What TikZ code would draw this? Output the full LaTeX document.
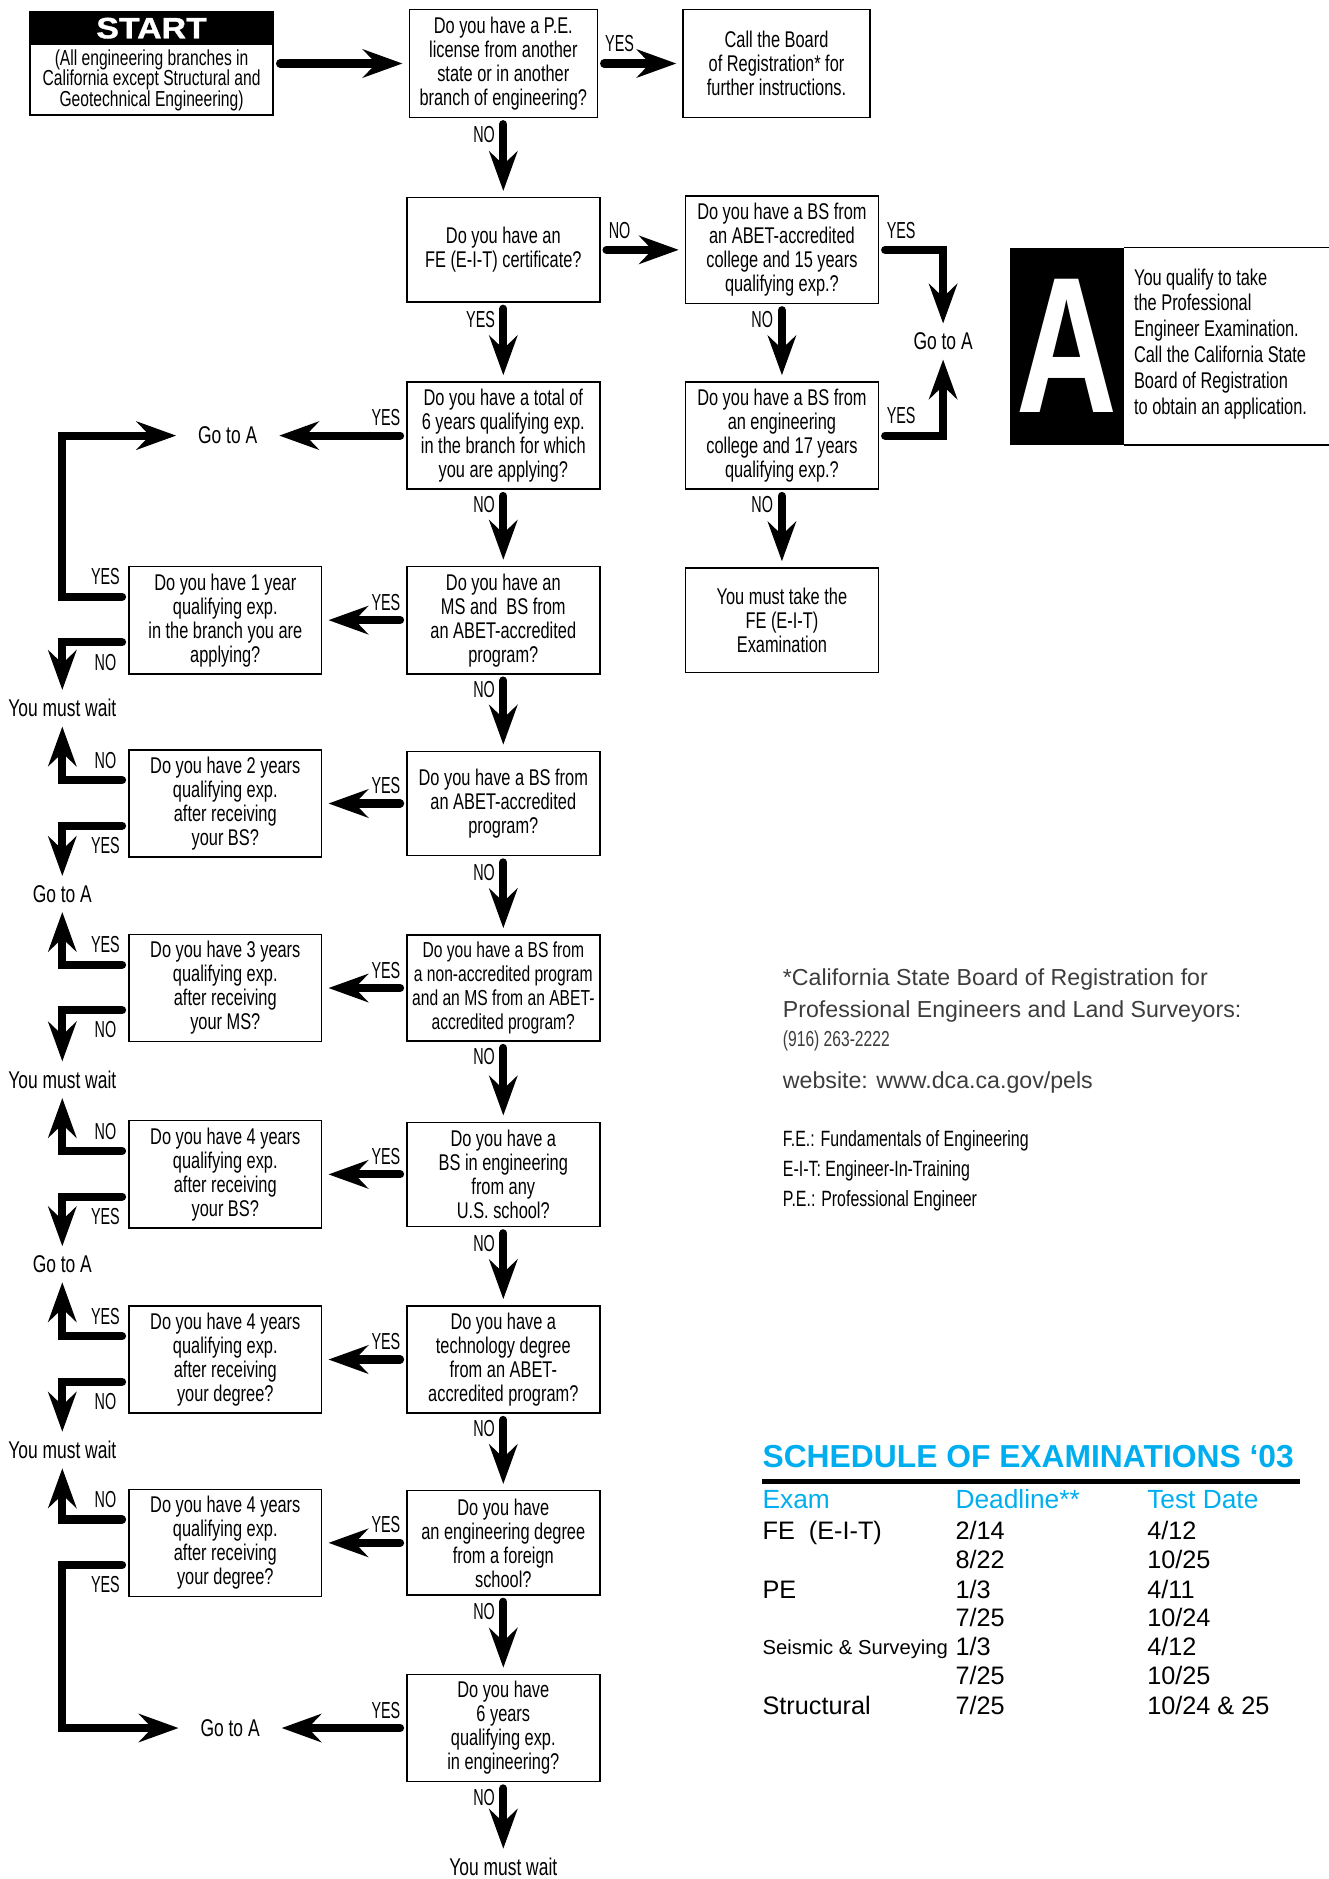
\documentclass[tikz,border=0pt]{standalone}
\usepackage{fontspec}
\setmainfont{Liberation Sans}
\newfontfamily\condfont[FakeStretch=0.72]{Liberation Sans}
\newfontfamily\lblfont[FakeStretch=0.62]{Liberation Sans}
\newfontfamily\widefont[FakeStretch=1.15, FakeBold=1.2]{Liberation Sans}
\newfontfamily\tallfont[FakeStretch=0.72]{Liberation Sans}
\usepackage{tikz}
\usepackage{xcolor}
\usetikzlibrary{arrows.meta}
\definecolor{schedblue}{RGB}{0,174,239}
\definecolor{notegray}{RGB}{60,60,60}

\tikzset{
  qbox/.style={draw, line width=0.7pt, minimum width=32.2mm, minimum height=17.4mm,
    inner xsep=0.5mm, align=center, font=\condfont\fontsize{10.8}{11.4}\selectfont},
  lbl/.style={inner sep=0pt, font=\lblfont\fontsize{11}{12}\selectfont},
  goto/.style={inner xsep=2.6mm, inner ysep=0.5mm, font=\condfont\fontsize{11.5}{12}\selectfont},
  flow/.style={line width=1.35mm, line cap=round, shorten <=1mm, shorten >=1mm,
    -{Stealth[length=6.6mm, width=4.7mm, inset=2.2mm]}},
  note/.style={anchor=base west, inner sep=0pt, text=notegray, font=\fontsize{11}{13}\selectfont},
  abbr/.style={anchor=base west, inner sep=0pt, font=\condfont\fontsize{10.5}{11}\selectfont},
  cell/.style={anchor=base west, inner sep=0pt, font=\fontsize{12}{14}\selectfont},
  head/.style={cell, text=schedblue, font=\fontsize{12.5}{14}\selectfont}
}

\begin{document}
\begin{tikzpicture}[x=0.2mm, y=-0.2mm]
    \useasboundingbox (0,0) rectangle (1109,1568);

    % Start box
    \node[draw, line width=0.8pt, minimum width=40.6mm, minimum height=17.2mm] (start) at (126.5,53) {};
    \node[draw, fill=black, text=white, minimum width=40.6mm, minimum height=5.4mm, inner sep=0pt,
      font=\widefont\bfseries\fontsize{14}{14}\selectfont] (starthd) at (126.5,23.5) {START};
    \node[align=center, inner sep=0pt, font=\condfont\fontsize{10.3}{9.8}\selectfont] (startbody) at (126.5,67)
      {(All engineering branches in\\California except Structural and\\Geotechnical Engineering)};

    % Middle column
    \node[qbox, minimum width=31.4mm, minimum height=18mm] (pe) at (420,53)
      {Do you have a P.E.\\license from another\\state or in another\\branch of engineering?};
    \node[qbox] (fe) at (420,208.5) {Do you have an\\FE (E-I-T) certificate?};
    \node[qbox] (tot6) at (420,363.5)
      {Do you have a total of\\6 years qualifying exp.\\in the branch for which\\you are applying?};
    \node[qbox] (msbs) at (420,517.5) {Do you have an\\MS and\ \ BS from\\an ABET-accredited\\program?};
    \node[qbox] (bsabet) at (420,670.5) {Do you have a BS from\\an ABET-accredited\\program?};
    \node[qbox, font=\condfont\fontsize{10.3}{11.4}\selectfont] (nonacc) at (420,824.5)
      {Do you have a BS from\\a non-accredited program\\and an MS from an ABET-\\accredited program?};
    \node[qbox] (bsus) at (420,980) {Do you have a\\BS in engineering\\from any\\U.S. school?};
    \node[qbox] (tech) at (420,1134.5)
      {Do you have a\\technology degree\\from an ABET-\\accredited program?};
    \node[qbox] (foreign) at (420,1287.5)
      {Do you have\\an engineering degree\\from a foreign\\school?};
    \node[qbox] (eng6) at (420,1442)
      {Do you have\\6 years\\qualifying exp.\\in engineering?};
    \node[goto] (wait4) at (420,1558) {You must wait};

    % Right column
    \node[qbox, minimum width=31.2mm, minimum height=18mm] (board) at (648,53)
      {Call the Board\\of Registration* for\\further instructions.};
    \node[qbox] (bs15) at (652.5,208.5)
      {Do you have a BS from\\an ABET-accredited\\college and 15 years\\qualifying exp.?};
    \node[qbox] (bs17) at (652.5,363.5)
      {Do you have a BS from\\an engineering\\college and 17 years\\qualifying exp.?};
    \node[qbox] (feexam) at (652.5,517.5) {You must take the\\FE (E-I-T)\\Examination};
    \node[goto] (gotoR) at (787,285) {Go to A};

    % Left column
    \node[qbox] (yr1) at (188,517.5)
      {Do you have 1 year\\qualifying exp.\\in the branch you are\\applying?};
    \node[qbox] (yr2) at (188,670.5)
      {Do you have 2 years\\qualifying exp.\\after receiving\\your BS?};
    \node[qbox] (yr3) at (188,824.5)
      {Do you have 3 years\\qualifying exp.\\after receiving\\your MS?};
    \node[qbox] (yr4a) at (188,980)
      {Do you have 4 years\\qualifying exp.\\after receiving\\your BS?};
    \node[qbox] (yr4b) at (188,1134.5)
      {Do you have 4 years\\qualifying exp.\\after receiving\\your degree?};
    \node[qbox] (yr4c) at (188,1287.5)
      {Do you have 4 years\\qualifying exp.\\after receiving\\your degree?};

    % Outcomes on the left
    \node[goto] (gotoL1) at (190,363.5) {Go to A};
    \node[goto] (wait1) at (52,591) {You must wait};
    \node[goto] (goto2) at (52,746) {Go to A};
    \node[goto] (wait2) at (52,901) {You must wait};
    \node[goto] (goto3) at (52,1055) {Go to A};
    \node[goto] (wait3) at (52,1210) {You must wait};
    \node[goto] (gotoL2) at (192,1442) {Go to A};
    \coordinate (c1) at (52,363.5);
    \coordinate (c2) at (52,1442);

    % Box A
    \node[fill=black, text=white, minimum width=19mm, minimum height=32.8mm, inner sep=0pt,
      font=\tallfont\bfseries\fontsize{92}{92}\selectfont] (abig) at (890.5,289) {A};
    \draw[line width=0.7pt] (abig.north east) -- ++(171,0);
    \draw[line width=0.7pt] (abig.south east) -- ++(171,0);
    \node[anchor=west, align=left, inner sep=0pt, font=\condfont\fontsize{10.8}{12.3}\selectfont] (atext) at (946,287)
      {You qualify to take\\the Professional\\Engineer Examination.\\Call the California State\\Board of Registration\\to obtain an application.};

    % Main flow
    \draw[flow] (start) -- (pe);
    \draw[flow] (pe) -- (board);
    \draw[flow] (pe) -- (fe);
    \draw[flow] (fe) -- (bs15);
    \draw[flow] (fe) -- (tot6);
    \draw[flow] (tot6) -- (msbs);
    \draw[flow] (msbs) -- (bsabet);
    \draw[flow] (bsabet) -- (nonacc);
    \draw[flow] (nonacc) -- (bsus);
    \draw[flow] (bsus) -- (tech);
    \draw[flow] (tech) -- (foreign);
    \draw[flow] (foreign) -- (eng6);
    \draw[flow] (eng6) -- (wait4);
    \draw[flow] (bs15) -- (bs17);
    \draw[flow] (bs17) -- (feexam);
    \draw[flow] (bs15) -| (gotoR);
    \draw[flow] (bs17) -| (gotoR);

    % Yes to the left
    \draw[flow] (tot6) -- (gotoL1);
    \draw[flow] (msbs) -- (yr1);
    \draw[flow] (bsabet) -- (yr2);
    \draw[flow] (nonacc) -- (yr3);
    \draw[flow] (bsus) -- (yr4a);
    \draw[flow] (tech) -- (yr4b);
    \draw[flow] (foreign) -- (yr4c);
    \draw[flow] (eng6) -- (gotoL2);

    % Elbows on the left
    \draw[flow] ([yshift=3.9mm]yr1.west) -| (c1) -- (gotoL1);
    \draw[flow] ([yshift=-3.7mm]yr1.west) -| (wait1);
    \draw[flow] ([yshift=3.9mm]yr2.west) -| (wait1);
    \draw[flow] ([yshift=-3.7mm]yr2.west) -| (goto2);
    \draw[flow] ([yshift=3.9mm]yr3.west) -| (goto2);
    \draw[flow] ([yshift=-3.7mm]yr3.west) -| (wait2);
    \draw[flow] ([yshift=3.9mm]yr4a.west) -| (wait2);
    \draw[flow] ([yshift=-3.7mm]yr4a.west) -| (goto3);
    \draw[flow] ([yshift=3.9mm]yr4b.west) -| (goto3);
    \draw[flow] ([yshift=-3.7mm]yr4b.west) -| (wait3);
    \draw[flow] ([yshift=3.9mm]yr4c.west) -| (wait3);
    \draw[flow] ([yshift=-3.7mm]yr4c.west) -| (c2) -- (gotoL2);

    % Yes / no labels
    \node[lbl] (peyes) at (517,36) {YES};
    \node[lbl] (peno) at (404,112) {NO};
    \node[lbl] (feno) at (517,192) {NO};
    \node[lbl] (feyes) at (401,267) {YES};
    \node[lbl] (bs15yes) at (752,192) {YES};
    \node[lbl] (bs15no) at (636,267) {NO};
    \node[lbl] (bs17yes) at (752,347) {YES};
    \node[lbl] (bs17no) at (636,421) {NO};
    \node[lbl] (tot6yes) at (322,348.5) {YES};
    \node[lbl] (tot6no) at (404,421) {NO};
    \node[lbl] (msbsyes) at (322,502.5) {YES};
    \node[lbl] (msbsno) at (404,575) {NO};
    \node[lbl] (bsabetyes) at (322,655.5) {YES};
    \node[lbl] (bsabetno) at (404,728) {NO};
    \node[lbl] (nonaccyes) at (322,809.5) {YES};
    \node[lbl] (nonaccno) at (404,882) {NO};
    \node[lbl] (bsusyes) at (322,965) {YES};
    \node[lbl] (bsusno) at (404,1037.5) {NO};
    \node[lbl] (techyes) at (322,1119.5) {YES};
    \node[lbl] (techno) at (404,1192) {NO};
    \node[lbl] (foreignyes) at (322,1272.5) {YES};
    \node[lbl] (foreignno) at (404,1345) {NO};
    \node[lbl] (eng6yes) at (322,1427) {YES};
    \node[lbl] (eng6no) at (404,1500) {NO};
    \node[lbl] (yr1yes) at (88,481.5) {YES};
    \node[lbl] (yr1no) at (88,552.5) {NO};
    \node[lbl] (yr2no) at (88,634.5) {NO};
    \node[lbl] (yr2yes) at (88,705.5) {YES};
    \node[lbl] (yr3yes) at (88,788.5) {YES};
    \node[lbl] (yr3no) at (88,859.5) {NO};
    \node[lbl] (yr4ano) at (88,944) {NO};
    \node[lbl] (yr4ayes) at (88,1015) {YES};
    \node[lbl] (yr4byes) at (88,1098.5) {YES};
    \node[lbl] (yr4bno) at (88,1169.5) {NO};
    \node[lbl] (yr4cno) at (88,1251.5) {NO};
    \node[lbl] (yr4cyes) at (88,1322.5) {YES};

    % Footnote
    \node[note] (fn1) at (653,822) {*California State Board of Registration for};
    \node[note] (fn2) at (653,849) {Professional Engineers and Land Surveyors:};
    \node[note, font=\condfont\fontsize{10.3}{11}\selectfont] (fn3) at (653,873) {(916) 263-2222};
    \node[note] (fn4) at (653,908) {website: www.dca.ca.gov/pels};
    \node[abbr] (ab1) at (653,957) {F.E.: Fundamentals of Engineering};
    \node[abbr] (ab2) at (653,982) {E-I-T: Engineer-In-Training};
    \node[abbr] (ab3) at (653,1007) {P.E.: Professional Engineer};

    % Schedule
    \node[cell, text=schedblue, font=\bfseries\fontsize{15.1}{16}\selectfont] (sched) at (636,1225)
      {SCHEDULE OF EXAMINATIONS ‘03};
    \draw[line width=0.8mm] (636,1236) -- (1085,1236);
    \node[head] (hexam) at (636,1259) {Exam};
    \node[head] (hdead) at (797,1259) {Deadline**};
    \node[head] (htest) at (957,1259) {Test Date};
    \node[cell] (e1) at (636,1284.5) {FE\ \ (E-I-T)};
    \node[cell] (d1) at (797,1284.5) {2/14};
    \node[cell] (t1) at (957,1284.5) {4/12};
    \node[cell] (d2) at (797,1308.5) {8/22};
    \node[cell] (t2) at (957,1308.5) {10/25};
    \node[cell] (e3) at (636,1333.5) {PE};
    \node[cell] (d3) at (797,1333.5) {1/3};
    \node[cell] (t3) at (957,1333.5) {4/11};
    \node[cell] (d4) at (797,1357.5) {7/25};
    \node[cell] (t4) at (957,1357.5) {10/24};
    \node[cell, font=\fontsize{9.6}{12}\selectfont] (e5) at (636,1380.5) {Seismic \& Surveying};
    \node[cell] (d5) at (797,1381.5) {1/3};
    \node[cell] (t5) at (957,1381.5) {4/12};
    \node[cell] (d6) at (797,1405.5) {7/25};
    \node[cell] (t6) at (957,1405.5) {10/25};
    \node[cell] (e7) at (636,1430.5) {Structural};
    \node[cell] (d7) at (797,1430.5) {7/25};
    \node[cell] (t7) at (957,1430.5) {10/24 \& 25};
\end{tikzpicture}
\end{document}
